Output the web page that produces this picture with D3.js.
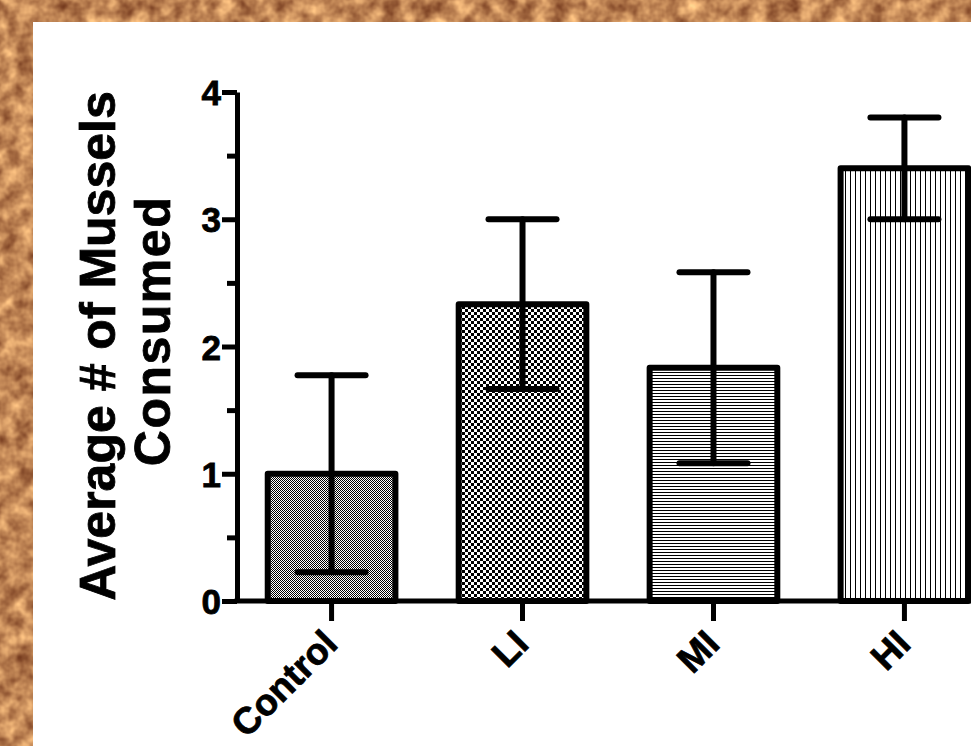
<!DOCTYPE html>
<html>
<head>
<meta charset="utf-8">
<script src="https://cdn.jsdelivr.net/npm/d3@7"></script>
<style>
  html, body { margin: 0; padding: 0; background: #b8875a; }
  svg { display: block; }
  text { font-family: "Liberation Sans", Arial, sans-serif; font-weight: bold; fill: #000; }
</style>
</head>
<body>
<script>
// values
const categories = ['Control', 'LI', 'MI', 'HI'];
const means = [1.0, 2.333, 1.833, 3.4];
const errors = [0.775, 0.667, 0.75, 0.4];
const patterns = ['fineChecker', 'checker', 'hLines', 'vLines'];
const majorTicks = [0, 1, 2, 3, 4];
const minorTicks = [0.5, 1.5, 2.5, 3.5];
const yTitle = ['Average # of Mussels', 'Consumed'];

const W = 971, H = 746;
const font = '"Liberation Sans", Arial, sans-serif';
const svg = d3.select('body').append('svg')
    .attr('width', W)
    .attr('height', H);

const defs = svg.append('defs');

// cork-ish background texture
const tex = defs.append('filter')
    .attr('id', 'cork')
    .attr('color-interpolation-filters', 'sRGB')
    .attr('x', 0).attr('y', 0).attr('width', 1).attr('height', 1);
tex.append('feTurbulence')
    .attr('type', 'fractalNoise')
    .attr('baseFrequency', 0.06)
    .attr('numOctaves', 3)
    .attr('seed', 7)
    .attr('result', 'noise');
tex.append('feColorMatrix')
    .attr('in', 'noise')
    .attr('type', 'matrix')
    .attr('values', '0 0 0 0.75 0.38  0 0 0 0.75 0.15  0 0 0 0.55 0.06  0 0 0 0 1');

svg.append('rect')
    .attr('width', W).attr('height', H)
    .attr('fill', '#b8875a')
    .attr('filter', 'url(#cork)');

// white panel
svg.append('rect')
    .attr('x', 33).attr('y', 22)
    .attr('width', W - 33).attr('height', H - 22)
    .attr('fill', '#fff');

// bar fill patterns
function addPattern(id, w, h, draw) {
  const p = defs.append('pattern')
      .attr('id', id)
      .attr('patternUnits', 'userSpaceOnUse')
      .attr('width', w).attr('height', h);
  p.append('rect').attr('width', w).attr('height', h).attr('fill', '#fff');
  draw(p);
}
addPattern('fineChecker', 2, 2, p => {
  p.append('rect').attr('width', 1).attr('height', 1).attr('fill', '#000');
  p.append('rect').attr('x', 1).attr('y', 1).attr('width', 1).attr('height', 1).attr('fill', '#000');
});
addPattern('checker', 6, 6, p => {
  p.append('rect').attr('width', 3).attr('height', 3).attr('fill', '#000');
  p.append('rect').attr('x', 3).attr('y', 3).attr('width', 3).attr('height', 3).attr('fill', '#000');
});
addPattern('hLines', 4, 3, p => {
  p.append('rect').attr('width', 4).attr('height', 1).attr('fill', '#000');
});
addPattern('vLines', 5, 4, p => {
  p.append('rect').attr('width', 1).attr('height', 4).attr('fill', '#000');
});

const x0 = 237, yTop = 92, yBase = 601;

const y = d3.scaleLinear()
    .domain([0, 4])
    .range([yBase, yTop]);

const x = d3.scaleBand()
    .domain(categories)
    .range([238, 998])
    .paddingInner(0.3)
    .paddingOuter(0.14);

const data = categories.map((c, i) => ({cat: c, mean: means[i], err: errors[i], pat: patterns[i]}));

// bars
svg.append('g')
    .attr('class', 'bars')
  .selectAll('rect')
  .data(data)
  .enter().append('rect')
    .attr('x', d => x(d.cat) + 3)
    .attr('y', d => y(d.mean))
    .attr('width', x.bandwidth() - 6)
    .attr('height', d => y(0) - y(d.mean))
    .attr('fill', d => `url(#${d.pat})`)
    .attr('stroke', '#000')
    .attr('stroke-width', 6)
    .attr('stroke-linejoin', 'round');

// error bars
const capHalf = 34;
const eb = svg.append('g')
    .attr('class', 'errorbars')
    .attr('stroke', '#000')
    .attr('stroke-width', 6)
    .attr('stroke-linecap', 'round')
  .selectAll('g')
  .data(data)
  .enter().append('g')
    .attr('transform', d => `translate(${x(d.cat) + x.bandwidth() / 2},0)`);

eb.append('line')
    .attr('y1', d => y(d.mean + d.err))
    .attr('y2', d => y(d.mean - d.err));
eb.append('line')
    .attr('x1', -capHalf).attr('x2', capHalf)
    .attr('y1', d => y(d.mean + d.err))
    .attr('y2', d => y(d.mean + d.err));
eb.append('line')
    .attr('x1', -capHalf).attr('x2', capHalf)
    .attr('y1', d => y(d.mean - d.err))
    .attr('y2', d => y(d.mean - d.err));

// y axis
svg.append('g')
    .attr('class', 'y-minor')
    .attr('transform', `translate(${x0},0)`)
    .call(d3.axisLeft(y).tickValues(minorTicks).tickSize(10).tickFormat(''))
    .call(g => g.select('.domain').remove())
    .call(g => g.selectAll('.tick line').attr('stroke-width', 5));

svg.append('g')
    .attr('class', 'y-axis')
    .attr('transform', `translate(${x0},0)`)
    .call(d3.axisLeft(y).tickValues(majorTicks).tickSize(15).tickSizeOuter(0).tickFormat(d3.format('d')))
    .call(g => g.select('.domain').attr('stroke-width', 5))
    .call(g => g.selectAll('.tick line').attr('stroke-width', 5))
    .call(g => g.selectAll('.tick text')
        .attr('x', -16)
        .attr('dy', '0.36em')
        .attr('font-size', 35)
        .attr('font-family', font)
        .attr('font-weight', 'bold')
        .attr('stroke', '#000')
        .attr('stroke-width', 0.8));

// x axis
svg.append('line')
    .attr('x1', x0 - 2.5).attr('x2', W)
    .attr('y1', yBase).attr('y2', yBase)
    .attr('stroke', '#000')
    .attr('stroke-width', 5);

svg.append('g')
    .attr('class', 'x-axis')
    .attr('transform', `translate(0,${yBase})`)
    .call(d3.axisBottom(x).tickSize(20).tickSizeOuter(0))
    .call(g => g.select('.domain').remove())
    .call(g => g.selectAll('.tick line').attr('stroke-width', 5))
    .call(g => g.selectAll('.tick text')
        .attr('font-size', 37)
        .attr('font-family', font)
        .attr('font-weight', 'bold')
        .attr('stroke', '#000')
        .attr('stroke-width', 0.8)
        .attr('text-anchor', 'end')
        .attr('y', 0)
        .attr('dy', 0)
        .attr('transform', 'translate(8,45) rotate(-45)'));

// y title
svg.append('text')
    .attr('transform', 'translate(115,346) rotate(-90)')
    .attr('text-anchor', 'middle')
    .attr('font-size', 50)
    .attr('stroke', '#000')
    .attr('stroke-width', 0.8)
    .text(yTitle[0]);
svg.append('text')
    .attr('transform', 'translate(170,331) rotate(-90)')
    .attr('text-anchor', 'middle')
    .attr('font-size', 50)
    .attr('letter-spacing', 1.5)
    .attr('stroke', '#000')
    .attr('stroke-width', 0.8)
    .text(yTitle[1]);
</script>
</body>
</html>
